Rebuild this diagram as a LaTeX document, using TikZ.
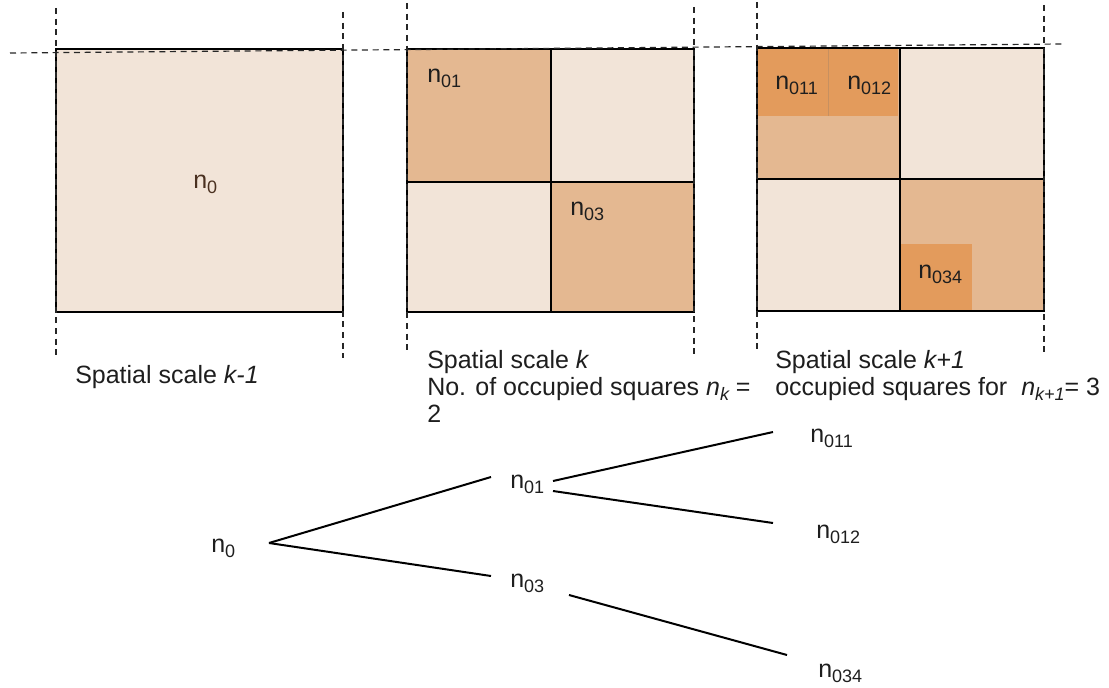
\documentclass[tikz,border=0pt]{standalone}
\usepackage{fontspec}
\setmainfont{Liberation Sans}
\definecolor{lightsq}{HTML}{F2E4D8}
\definecolor{medsq}{HTML}{E4B891}
\definecolor{darksq}{HTML}{E39B5C}
\definecolor{txt}{HTML}{1E1E1E}
\definecolor{browntxt}{HTML}{4A3020}
\newcommand\sbs[1]{\raisebox{-0.2em}{\fontsize{13.5}{14}\selectfont #1}}
\newcommand\isbs[1]{\raisebox{-0.2em}{\fontsize{13.5}{14}\selectfont\itshape #1}}
\begin{document}
\begin{tikzpicture}[x=0.75pt,y=-0.75pt,
  lbl/.style={anchor=base west,inner sep=0pt,text=txt,font=\fontsize{18.75}{20.25}\selectfont},
  captxt/.style={lbl},
  sqedge/.style={draw=black,line width=1.1pt},
  guide/.style={draw=black!85,line width=0.9pt,dash pattern=on 4.5pt off 3.5pt},
  branch/.style={draw=black,line width=1.5pt}]
\useasboundingbox (0,0) rectangle (1109,688);
% square 1
\path[fill=lightsq] (56,49) rectangle (343,312);
\draw[sqedge] (56,49) rectangle (343,312);
% square 2
\path[fill=medsq] (407,49) rectangle (551,182);
\path[fill=lightsq] (551,49) rectangle (694,182);
\path[fill=lightsq] (407,182) rectangle (551,312);
\path[fill=medsq] (551,182) rectangle (694,312);
\draw[sqedge] (407,49) rectangle (694,312);
\draw[sqedge] (551,49) -- (551,312);
\draw[sqedge] (407,182) -- (694,182);
% square 3
\path[fill=medsq] (757,48) rectangle (900,179);
\path[fill=lightsq] (900,48) rectangle (1044,179);
\path[fill=lightsq] (757,179) rectangle (900,311);
\path[fill=medsq] (900,179) rectangle (1044,311);
\path[fill=darksq] (757,48) rectangle (828,116);
\path[fill=darksq] (828,48) rectangle (898,116);
\draw[darksq!85!black!90,line width=0.3pt] (828,48) -- (828,116);
\path[fill=darksq] (901,244) rectangle (972,311);
\draw[sqedge] (757,48) rectangle (1044,311);
\draw[sqedge] (900,48) -- (900,311);
\draw[sqedge] (757,179) -- (1044,179);
% guides
\draw[guide] (10,53) -- (1062,44);
\draw[guide] (56,8) -- (56,355);
\draw[guide] (343,12) -- (343,358);
\draw[guide] (407,3) -- (407,350);
\draw[guide] (694,7) -- (694,355);
\draw[guide] (757,2) -- (757,350);
\draw[guide] (1044,5) -- (1044,352);
% square labels
\node[lbl,text=browntxt] (s0) at (193,188) {n\sbs{0}};
\node[lbl] (s01) at (427,83) {n\sbs{01}};
\node[lbl] (s03) at (570,215) {n\sbs{03}};
\node[lbl] (s011) at (775,90) {n\sbs{011}};
\node[lbl] (s012) at (847,90) {n\sbs{012}};
\node[lbl] (s034) at (918,278) {n\sbs{034}};
% captions
\node[captxt] (c1) at (75,383) {Spatial scale \textit{k-1}};
\node[captxt] (c2a) at (427,368) {Spatial scale \textit{k}};
\node[captxt] (c2b) at (427,395) {No. of occupied squares \textit{n}\isbs{k} =};
\node[captxt] (c2c) at (427,422) {2};
\node[captxt] (c3a) at (775,368) {Spatial scale \textit{k+1}};
\node[captxt] (c3b) at (775,395) {occupied squares for~~\textit{n}\isbs{k+1}= 3};
% tree
\node[lbl] (t0) at (211,552) {n\sbs{0}};
\node[lbl] (t01) at (510,488) {n\sbs{01}};
\node[lbl] (t03) at (510,587) {n\sbs{03}};
\node[lbl] (t011) at (810,442) {n\sbs{011}};
\node[lbl] (t012) at (816,538) {n\sbs{012}};
\node[lbl] (t034) at (818,677) {n\sbs{034}};
\coordinate (a0) at (269,543);
\coordinate (b01) at (491,477);
\coordinate (b03) at (491,576);
\coordinate (a01u) at (553,481);
\coordinate (a01d) at (553,491);
\coordinate (a03) at (569,595);
\coordinate (b011) at (773,432);
\coordinate (b012) at (773,523);
\coordinate (b034) at (787,655);
\draw[branch] (a0) -- (b01);
\draw[branch] (a0) -- (b03);
\draw[branch] (a01u) -- (b011);
\draw[branch] (a01d) -- (b012);
\draw[branch] (a03) -- (b034);
\end{tikzpicture}
\end{document}
